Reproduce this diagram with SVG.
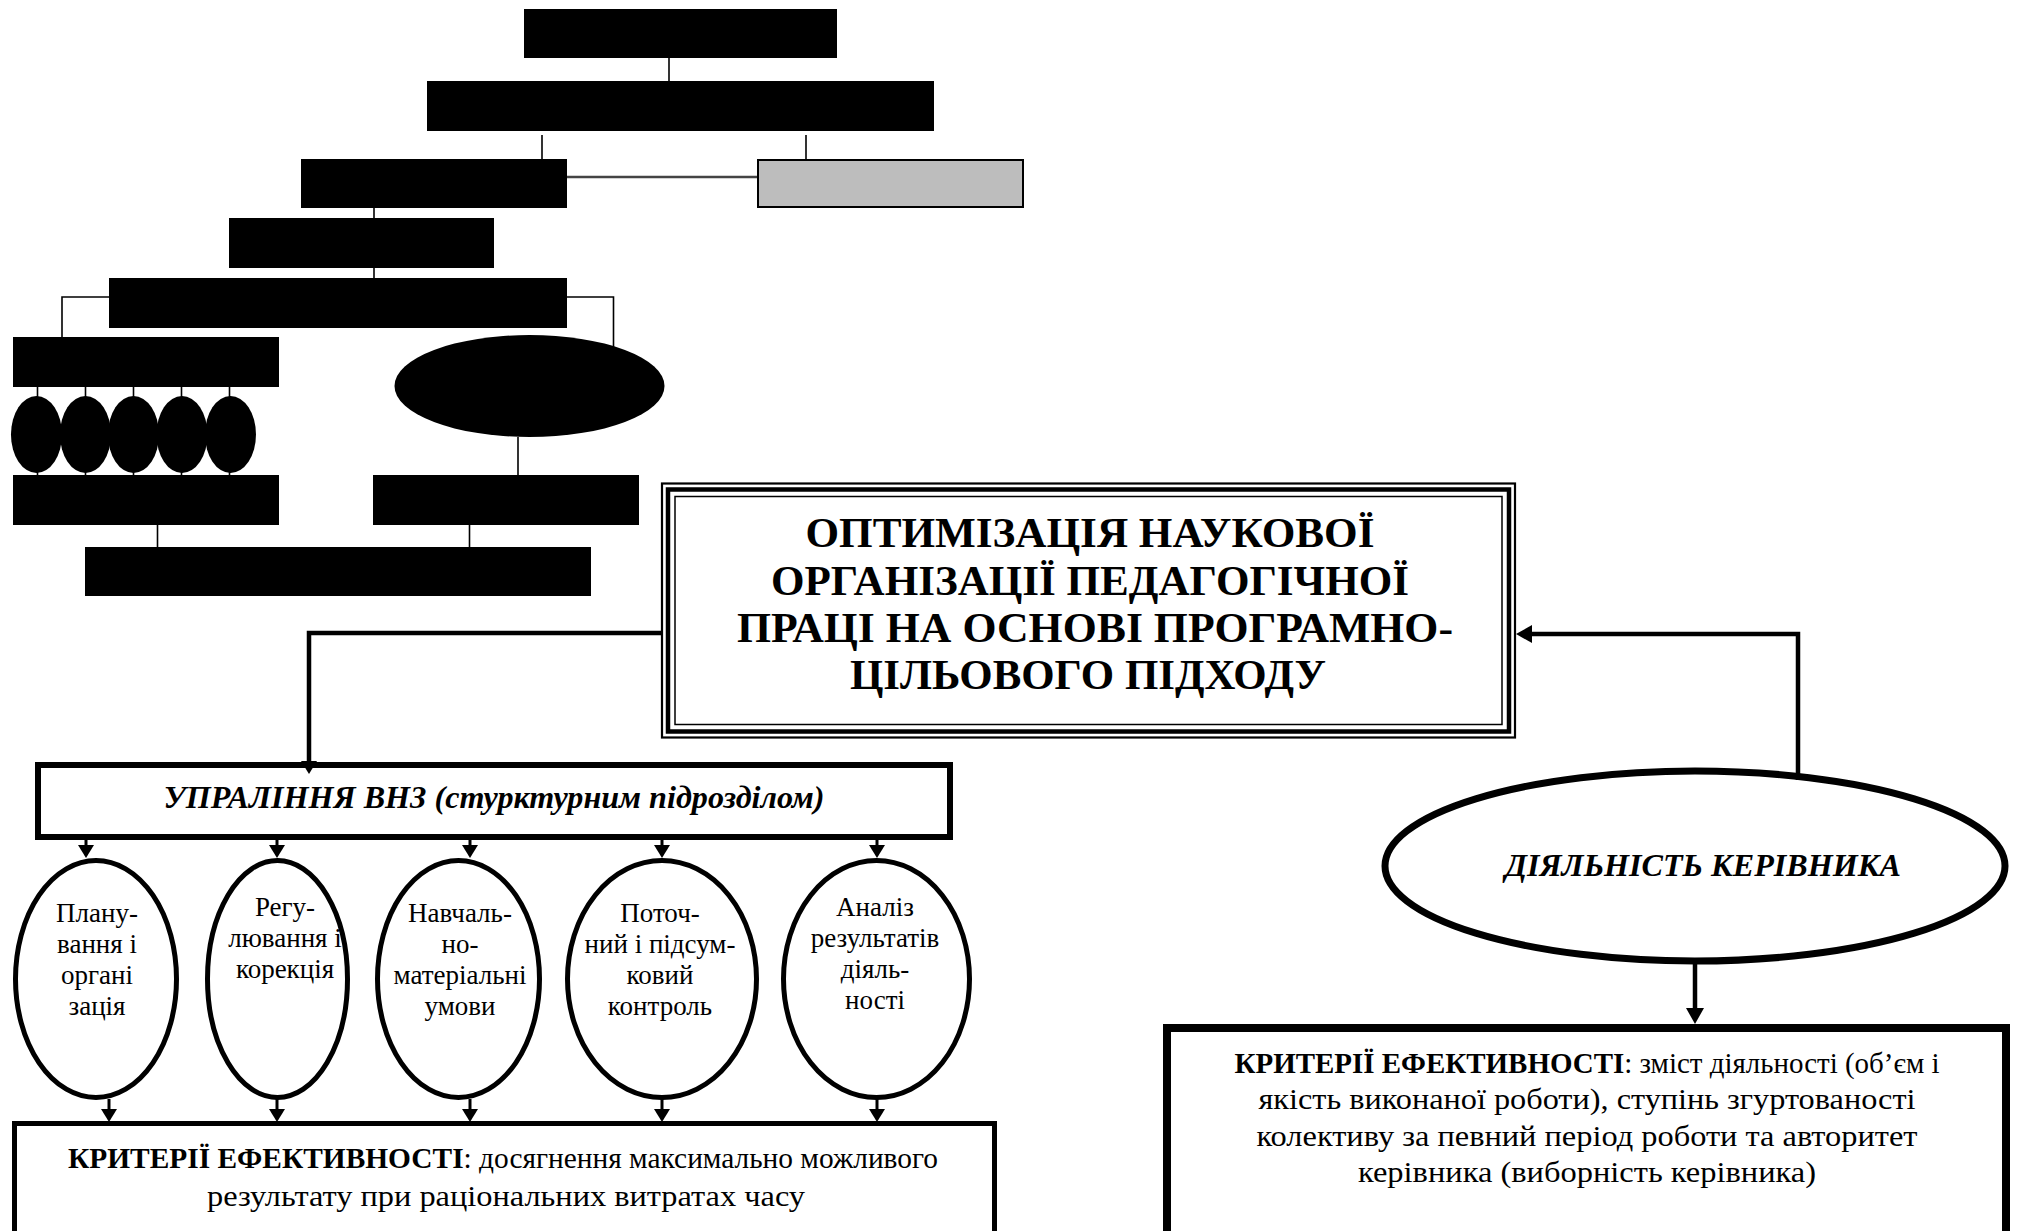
<svg xmlns="http://www.w3.org/2000/svg" width="2020" height="1231" viewBox="0 0 2020 1231">
<defs>
<style>
.blk{fill:#000}
.thin{stroke:#000;stroke-width:1.6;fill:none}
.thick{stroke:#000;stroke-width:4.5;fill:none}
.med{stroke:#000;stroke-width:3;fill:none}
.ov{fill:#fff;stroke:#000;stroke-width:5}
.t{font-family:"Liberation Serif","Times New Roman",serif;fill:#000;text-anchor:middle}
.title{font-size:43px;font-weight:bold}
.el{font-size:27px}
.crit{font-size:30px}
.bi{font-weight:bold;font-style:italic}
</style>
<marker id="ah" markerUnits="userSpaceOnUse" viewBox="0 0 13 16" markerWidth="13" markerHeight="16" refX="0" refY="8" orient="auto"><path d="M0,0 L13,8 L0,16 z" fill="#000"/></marker>
<marker id="ahL" markerUnits="userSpaceOnUse" viewBox="0 0 16 18" markerWidth="16" markerHeight="18" refX="0" refY="9" orient="auto"><path d="M0,0 L16,9 L0,18 z" fill="#000"/></marker>
</defs>
<rect width="2020" height="1231" fill="#fff"/>

<g id="n1"><rect class="blk" x="524" y="9" width="313" height="49"/></g>
<g id="n2"><rect class="blk" x="427" y="81" width="507" height="50"/></g>
<g id="n3"><rect class="blk" x="301" y="159" width="266" height="49"/></g>
<g id="n4"><rect x="758" y="160" width="265" height="47" fill="#bdbdbd" stroke="#000" stroke-width="2"/></g>
<g id="n5"><rect class="blk" x="229" y="218" width="265" height="50"/></g>
<g id="n6"><rect class="blk" x="109" y="278" width="458" height="50"/></g>
<g id="n7"><rect class="blk" x="13" y="337" width="266" height="50"/></g>
<g id="n8"><ellipse class="blk" cx="529.5" cy="386" rx="135" ry="51"/></g>
<g id="n9a"><ellipse class="blk" cx="36.5" cy="434.5" rx="25.5" ry="38.5"/></g>
<g id="n9b"><ellipse class="blk" cx="85.5" cy="434.5" rx="25.5" ry="38.5"/></g>
<g id="n9c"><ellipse class="blk" cx="133.5" cy="434.5" rx="25.5" ry="38.5"/></g>
<g id="n9d"><ellipse class="blk" cx="182" cy="434.5" rx="25.5" ry="38.5"/></g>
<g id="n9e"><ellipse class="blk" cx="230.5" cy="434.5" rx="25.5" ry="38.5"/></g>
<g id="n10"><rect class="blk" x="13" y="475" width="266" height="50"/></g>
<g id="n11"><rect class="blk" x="373" y="475" width="266" height="50"/></g>
<g id="n12"><rect class="blk" x="85" y="547" width="506" height="49"/></g>

<g id="title">
<rect x="662" y="483.5" width="853" height="254" fill="#fff" stroke="#000" stroke-width="2.2"/>
<rect x="668" y="489.5" width="841" height="242" fill="none" stroke="#000" stroke-width="4.5"/>
<rect x="675" y="496.5" width="827" height="228" fill="none" stroke="#000" stroke-width="1.5"/>
<text class="t title" x="1090" y="547" textLength="569" lengthAdjust="spacingAndGlyphs">ОПТИМІЗАЦІЯ НАУКОВОЇ</text>
<text class="t title" x="1090" y="595" textLength="638" lengthAdjust="spacingAndGlyphs">ОРГАНІЗАЦІЇ ПЕДАГОГІЧНОЇ</text>
<text class="t title" x="1095" y="642" textLength="716" lengthAdjust="spacingAndGlyphs">ПРАЦІ НА ОСНОВІ ПРОГРАМНО-</text>
<text class="t title" x="1088" y="689" textLength="476" lengthAdjust="spacingAndGlyphs">ЦІЛЬОВОГО ПІДХОДУ</text>
</g>

<g id="upr">
<rect x="38" y="765" width="912" height="72" fill="#fff" stroke="#000" stroke-width="6"/>
<text class="t bi" x="494" y="808" font-size="31" textLength="661" lengthAdjust="spacingAndGlyphs">УПРАЛІННЯ ВНЗ (стурктурним підрозділом)</text>
</g>

<g id="f1"><ellipse class="ov" cx="96" cy="979" rx="80.5" ry="118.5"/>
<text class="t el" x="97" y="922">Плану-</text><text class="t el" x="97" y="953">вання і</text><text class="t el" x="97" y="984">органі</text><text class="t el" x="97" y="1015">зація</text></g>
<g id="f2"><ellipse class="ov" cx="277.5" cy="979" rx="70" ry="118.5"/>
<text class="t el" x="285" y="916">Регу-</text><text class="t el" x="285" y="947">лювання і</text><text class="t el" x="285" y="978">корекція</text></g>
<g id="f3"><ellipse class="ov" cx="458.5" cy="979" rx="81" ry="118.5"/>
<text class="t el" x="460" y="922">Навчаль-</text><text class="t el" x="460" y="953">но-</text><text class="t el" x="460" y="984">матеріальні</text><text class="t el" x="460" y="1015">умови</text></g>
<g id="f4"><ellipse class="ov" cx="662" cy="979" rx="94.5" ry="118.5"/>
<text class="t el" x="660" y="922">Поточ-</text><text class="t el" x="660" y="953">ний і підсум-</text><text class="t el" x="660" y="984">ковий</text><text class="t el" x="660" y="1015">контроль</text></g>
<g id="f5"><ellipse class="ov" cx="876.5" cy="979" rx="93" ry="118.5"/>
<text class="t el" x="875" y="916">Аналіз</text><text class="t el" x="875" y="947">результатів</text><text class="t el" x="875" y="978">діяль-</text><text class="t el" x="875" y="1009">ності</text></g>

<g id="crit-left">
<rect x="14.5" y="1123.5" width="980" height="200" fill="#fff" stroke="#000" stroke-width="5"/>
<text class="t crit" x="503" y="1168" textLength="870" lengthAdjust="spacingAndGlyphs"><tspan font-weight="bold">КРИТЕРІЇ ЕФЕКТИВНОСТІ</tspan>: досягнення максимально можливого</text>
<text class="t crit" x="506" y="1206" textLength="598" lengthAdjust="spacingAndGlyphs">результату при раціональних витратах часу</text>
</g>

<g id="kerivnyk">
<ellipse cx="1695" cy="866" rx="310" ry="95" fill="#fff" stroke="#000" stroke-width="7"/>
<text class="t bi" x="1703" y="876" font-size="31" textLength="396" lengthAdjust="spacingAndGlyphs">ДІЯЛЬНІСТЬ КЕРІВНИКА</text>
</g>

<g id="crit-right">
<rect x="1167" y="1028" width="839" height="250" fill="#fff" stroke="#000" stroke-width="8"/>
<text class="t crit" x="1587" y="1073" textLength="705" lengthAdjust="spacingAndGlyphs"><tspan font-weight="bold">КРИТЕРІЇ ЕФЕКТИВНОСТІ</tspan>: зміст діяльності (об’єм і</text>
<text class="t crit" x="1587" y="1109" textLength="657" lengthAdjust="spacingAndGlyphs">якість виконаної роботи), ступінь згуртованості</text>
<text class="t crit" x="1587" y="1146" textLength="661" lengthAdjust="spacingAndGlyphs">колективу за певний період роботи та авторитет</text>
<text class="t crit" x="1587" y="1182" textLength="458" lengthAdjust="spacingAndGlyphs">керівника (виборність керівника)</text>
</g>

<g id="connectors">
<path class="thin" d="M669,58 V81"/>
<path class="thin" d="M542,135 V159"/>
<path class="thin" d="M806,135 V159"/>
<path d="M567,177 H757" stroke="#444" stroke-width="2.5" fill="none"/>
<path class="thin" d="M374,208 V218"/>
<path class="thin" d="M374,268 V278"/>
<path class="thin" d="M109,297 H62 V337"/>
<path class="thin" d="M567,297 H613.5 V347"/>
<path class="thin" d="M37.5,387 V398 M85.5,387 V398 M133.5,387 V398 M181.5,387 V398 M229.5,387 V398"/>
<path class="thin" d="M37.5,471 V475 M85.5,471 V475 M133.5,471 V475 M181.5,471 V475 M229.5,471 V475"/>
<path class="thin" d="M518,437 V475"/>
<path class="thin" d="M157.5,525 V547"/>
<path class="thin" d="M469.5,525 V547"/>
<path class="thick" d="M661,633 H309 V761" marker-end="url(#ah)"/>
<path class="thick" d="M1798,780 V634 H1532" marker-end="url(#ahL)"/>
<path class="med" d="M86,838 V845" marker-end="url(#ah)"/>
<path class="med" d="M277,838 V845" marker-end="url(#ah)"/>
<path class="med" d="M470,838 V845" marker-end="url(#ah)"/>
<path class="med" d="M662,838 V845" marker-end="url(#ah)"/>
<path class="med" d="M877,838 V845" marker-end="url(#ah)"/>
<path class="med" d="M109,1099 V1109" marker-end="url(#ah)"/>
<path class="med" d="M277,1099 V1109" marker-end="url(#ah)"/>
<path class="med" d="M470,1099 V1109" marker-end="url(#ah)"/>
<path class="med" d="M662,1099 V1109" marker-end="url(#ah)"/>
<path class="med" d="M877,1099 V1109" marker-end="url(#ah)"/>
<path class="thick" d="M1695,964 V1008" marker-end="url(#ahL)"/>
</g>
</svg>
